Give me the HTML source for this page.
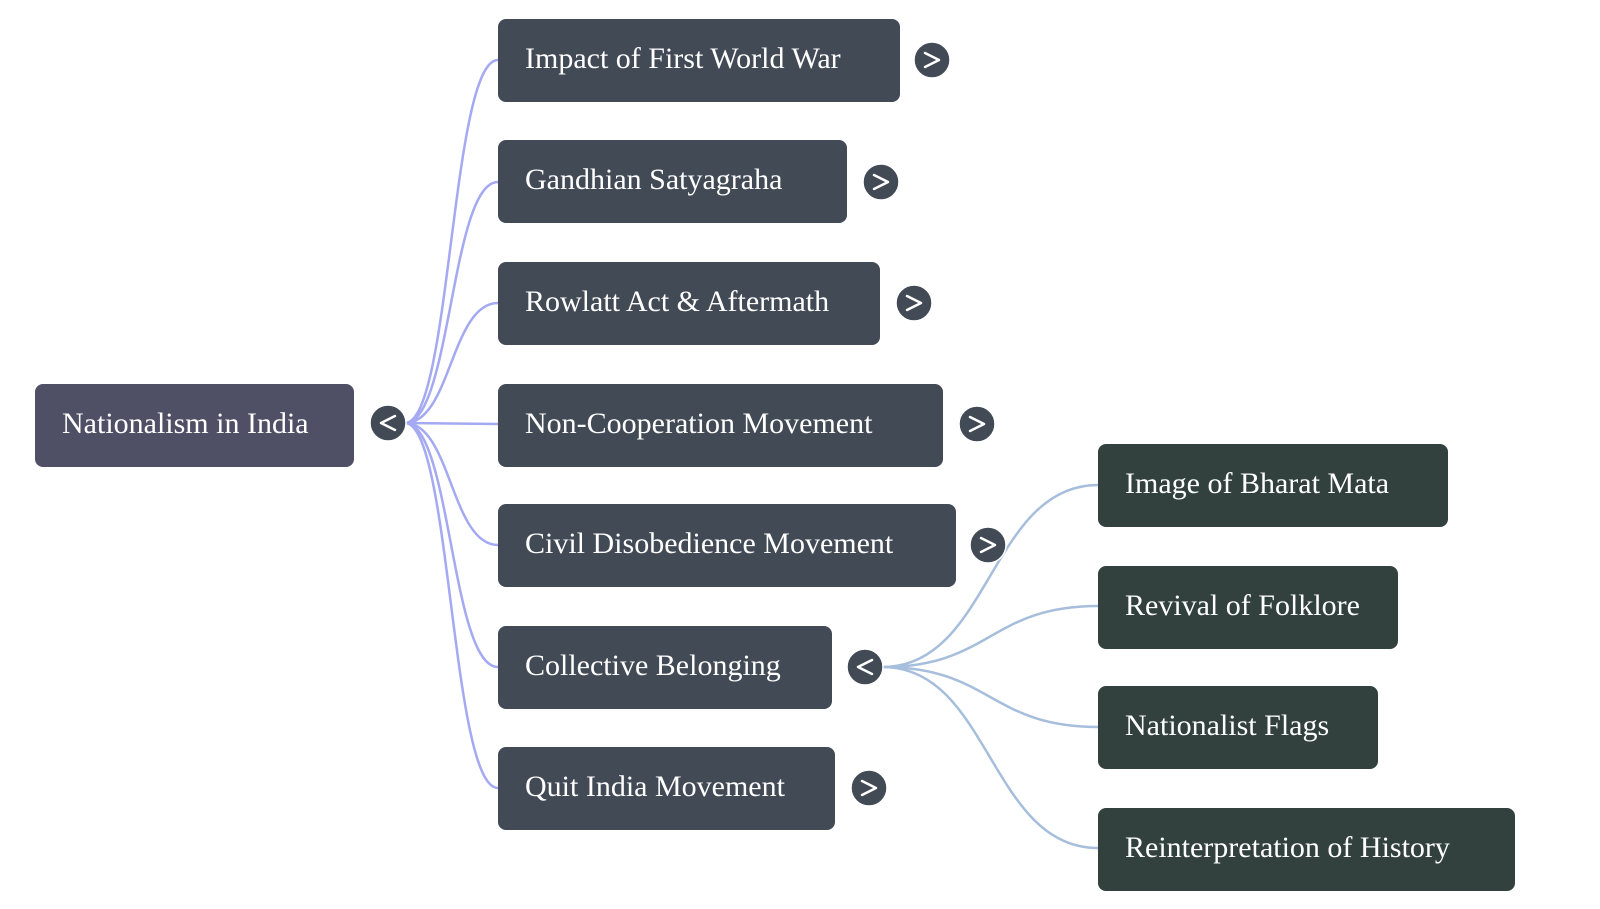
<!DOCTYPE html>
<html><head><style>
body{margin:0;width:1600px;height:909px;background:#fff;overflow:hidden;font-family:"Liberation Serif",serif;}
.b{position:absolute;height:83px;border-radius:8px;color:#fff;font-size:30px;line-height:80px;padding-left:27px;box-sizing:border-box;white-space:nowrap;}
.c{background:#424a55}.g{background:#32413e}.r{background:#4f4f66}
</style></head><body>
<svg width="1600" height="909" style="position:absolute;left:0;top:0">
<g fill="none" stroke="#a4a9f2" stroke-width="2.5">
<path d="M405 423 C451 423 451 60 498 60"/>
<path d="M405 423 C451 423 451 182 498 182"/>
<path d="M405 423 C451 423 451 303 498 303"/>
<path d="M405 423 L498 424"/>
<path d="M405 423 C451 423 451 545 498 545"/>
<path d="M405 423 C451 423 451 667 498 667"/>
<path d="M405 423 C451 423 451 788 498 788"/>
</g>
<g fill="none" stroke="#a6bedc" stroke-width="2.5">
<path d="M883 667 C990 667 990 485 1098 485"/>
<path d="M883 667 C990 667 990 606 1098 606"/>
<path d="M883 667 C990 667 990 727 1098 727"/>
<path d="M883 667 C990 667 990 848 1098 848"/>
</g>
<g fill="#424a55" stroke="#fff" stroke-width="1.5">
<circle cx="388" cy="423" r="18"/>
<circle cx="932" cy="60" r="18"/>
<circle cx="881" cy="182" r="18"/>
<circle cx="914" cy="303" r="18"/>
<circle cx="977" cy="424" r="18"/>
<circle cx="988" cy="545" r="18"/>
<circle cx="865" cy="667" r="18"/>
<circle cx="869" cy="788" r="18"/>
</g>
<g fill="none" stroke="#fff" stroke-width="2.5" stroke-linecap="round" stroke-linejoin="round">
<path d="M395 416 L381 423 L395 430"/>
<path d="M925 53 L939 60 L925 67"/>
<path d="M874 175 L888 182 L874 189"/>
<path d="M907 296 L921 303 L907 310"/>
<path d="M970 417 L984 424 L970 431"/>
<path d="M981 538 L995 545 L981 552"/>
<path d="M872 660 L858 667 L872 674"/>
<path d="M862 781 L876 788 L862 795"/>
</g>
</svg>
<div class="b r" style="left:35px;top:384px;width:319px">Nationalism in India</div>
<div class="b c" style="left:498px;top:19px;width:402px">Impact of First World War</div>
<div class="b c" style="left:498px;top:140px;width:349px">Gandhian Satyagraha</div>
<div class="b c" style="left:498px;top:262px;width:382px">Rowlatt Act &amp; Aftermath</div>
<div class="b c" style="left:498px;top:384px;width:445px">Non-Cooperation Movement</div>
<div class="b c" style="left:498px;top:504px;width:458px">Civil Disobedience Movement</div>
<div class="b c" style="left:498px;top:626px;width:334px">Collective Belonging</div>
<div class="b c" style="left:498px;top:747px;width:337px">Quit India Movement</div>
<div class="b g" style="left:1098px;top:444px;width:350px">Image of Bharat Mata</div>
<div class="b g" style="left:1098px;top:566px;width:300px">Revival of Folklore</div>
<div class="b g" style="left:1098px;top:686px;width:280px">Nationalist Flags</div>
<div class="b g" style="left:1098px;top:808px;width:417px">Reinterpretation of History</div>
</body></html>
